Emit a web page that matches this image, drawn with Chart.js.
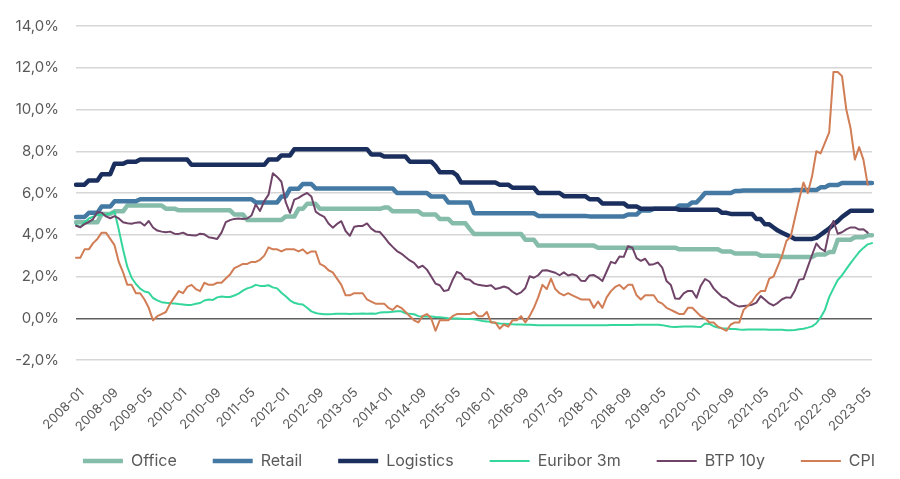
<!DOCTYPE html>
<html>
<head>
<meta charset="utf-8">
<script src="https://cdn.jsdelivr.net/npm/chart.js@4.4.1/dist/chart.umd.min.js"></script>
<style>
  html, body { margin: 0; padding: 0; background: #fff; }
  #wrap { width: 900px; height: 479px; }
</style>
</head>
<body>
<div id="wrap"><canvas id="yieldsChart"></canvas></div>
<script>
// monthly categories 2008-01 .. 2023-07
const firstYear = 2008, lastYear = 2023, lastMonth = 7;
const months = [];
for (let y = firstYear; y <= lastYear; y++) {
  for (let m = 1; m <= 12; m++) {
    if (y === lastYear && m > lastMonth) break;
    months.push(`${y}-${String(m).padStart(2, '0')}`);
  }
}
const tickEvery = 8;

const office = [
  4.6,4.6,4.6,4.6,4.6,4.6,5.0,5.0,5.0,5.12,5.12,5.12,
  5.4,5.4,5.4,5.4,5.4,5.4,5.4,5.4,5.4,5.25,5.25,5.25,
  5.17,5.17,5.17,5.17,5.17,5.17,5.17,5.17,5.17,5.17,5.17,5.17,
  5.17,4.97,4.97,4.97,4.71,4.71,4.71,4.71,4.71,4.71,4.71,4.71,
  4.71,4.87,4.87,4.87,5.24,5.24,5.48,5.48,5.48,5.24,5.24,5.24,
  5.24,5.24,5.24,5.24,5.24,5.24,5.24,5.24,5.24,5.24,5.24,5.24,
  5.3,5.3,5.12,5.12,5.12,5.12,5.12,5.12,5.12,4.97,4.97,4.97,
  4.97,4.76,4.76,4.76,4.55,4.55,4.55,4.55,4.28,4.04,4.04,4.04,
  4.04,4.04,4.04,4.04,4.04,4.04,4.04,4.04,4.04,3.76,3.76,3.76,
  3.48,3.48,3.48,3.48,3.48,3.48,3.48,3.48,3.48,3.48,3.48,3.48,
  3.48,3.48,3.38,3.38,3.38,3.38,3.38,3.38,3.38,3.38,3.38,3.38,
  3.38,3.38,3.38,3.38,3.38,3.38,3.38,3.38,3.38,3.3,3.3,3.3,
  3.3,3.3,3.3,3.3,3.3,3.3,3.3,3.2,3.2,3.2,3.1,3.1,
  3.1,3.1,3.1,3.1,3.0,3.0,3.0,3.0,3.0,2.93,2.93,2.93,
  2.93,2.93,2.93,2.93,2.93,3.05,3.05,3.05,3.17,3.17,3.76,3.76,
  3.76,3.76,3.88,3.88,3.88,3.98,3.98
];
const retail = [
  4.85,4.85,4.85,5.05,5.05,5.05,5.35,5.35,5.35,5.6,5.6,5.6,
  5.6,5.6,5.6,5.7,5.7,5.7,5.7,5.7,5.7,5.7,5.7,5.7,
  5.7,5.7,5.7,5.7,5.7,5.7,5.7,5.7,5.7,5.7,5.7,5.7,
  5.7,5.7,5.7,5.7,5.7,5.7,5.55,5.55,5.55,5.55,5.55,5.55,
  5.83,5.83,6.2,6.2,6.2,6.43,6.43,6.43,6.22,6.22,6.22,6.22,
  6.22,6.22,6.22,6.22,6.22,6.22,6.22,6.22,6.22,6.22,6.22,6.22,
  6.22,6.22,6.22,6.0,6.0,6.0,6.0,6.0,6.0,6.0,6.0,5.83,
  5.83,5.83,5.83,5.55,5.55,5.55,5.55,5.55,5.55,5.03,5.03,5.03,
  5.03,5.03,5.03,5.03,5.03,5.03,5.03,5.03,5.03,5.03,5.03,5.03,
  4.9,4.9,4.9,4.9,4.9,4.9,4.9,4.9,4.9,4.9,4.9,4.9,
  4.88,4.88,4.88,4.88,4.88,4.88,4.88,4.88,4.88,4.97,4.97,4.97,
  5.16,5.16,5.16,5.24,5.24,5.24,5.24,5.24,5.24,5.4,5.4,5.4,
  5.55,5.55,5.76,6.0,6.0,6.0,6.0,6.0,6.0,6.0,6.1,6.1,
  6.12,6.12,6.12,6.12,6.12,6.12,6.12,6.12,6.12,6.12,6.12,6.12,
  6.14,6.14,6.14,6.14,6.14,6.14,6.27,6.27,6.38,6.38,6.38,6.48,
  6.48,6.48,6.48,6.48,6.48,6.48,6.48
];
const logistics = [
  6.4,6.4,6.4,6.6,6.6,6.6,6.9,6.9,6.9,7.4,7.4,7.4,
  7.5,7.5,7.5,7.6,7.6,7.6,7.6,7.6,7.6,7.6,7.6,7.6,
  7.6,7.6,7.6,7.35,7.35,7.35,7.35,7.35,7.35,7.35,7.35,7.35,
  7.35,7.35,7.35,7.35,7.35,7.35,7.35,7.35,7.35,7.6,7.6,7.6,
  7.8,7.8,7.8,8.1,8.1,8.1,8.1,8.1,8.1,8.1,8.1,8.1,
  8.1,8.1,8.1,8.1,8.1,8.1,8.1,8.1,8.1,7.85,7.85,7.85,
  7.75,7.75,7.75,7.75,7.75,7.75,7.5,7.5,7.5,7.5,7.5,7.5,
  7.3,7.0,7.0,7.0,7.0,6.85,6.5,6.5,6.5,6.5,6.5,6.5,
  6.5,6.5,6.5,6.4,6.4,6.4,6.25,6.25,6.25,6.25,6.25,6.25,
  6.0,6.0,6.0,6.0,6.0,6.0,5.85,5.85,5.85,5.85,5.85,5.85,
  5.7,5.7,5.7,5.5,5.5,5.5,5.5,5.5,5.5,5.35,5.35,5.35,
  5.25,5.25,5.25,5.25,5.25,5.25,5.25,5.25,5.25,5.2,5.2,5.2,
  5.2,5.2,5.2,5.2,5.2,5.2,5.2,5.05,5.05,5.0,5.0,5.0,
  5.0,5.0,5.0,4.75,4.75,4.5,4.5,4.35,4.2,4.1,4.0,3.9,
  3.8,3.8,3.8,3.8,3.8,3.85,4.0,4.15,4.3,4.5,4.65,4.85,
  5.0,5.15,5.15,5.15,5.15,5.15,5.15
];
const euribor3m = [
  4.48,4.36,4.60,4.78,4.86,4.94,4.96,4.97,5.02,5.11,4.24,3.29,
  2.46,1.94,1.64,1.42,1.28,1.23,0.97,0.86,0.77,0.74,0.72,0.71,
  0.68,0.66,0.64,0.64,0.69,0.73,0.85,0.90,0.88,1.00,1.04,1.02,
  1.02,1.09,1.18,1.32,1.43,1.49,1.60,1.55,1.54,1.58,1.48,1.43,
  1.22,1.05,0.86,0.74,0.68,0.66,0.50,0.33,0.25,0.21,0.19,0.19,
  0.20,0.22,0.21,0.21,0.20,0.21,0.22,0.23,0.22,0.23,0.22,0.27,
  0.29,0.29,0.31,0.33,0.33,0.24,0.21,0.19,0.10,0.08,0.08,0.08,
  0.06,0.05,0.03,0.00,-0.01,-0.01,-0.02,-0.03,-0.04,-0.05,-0.09,-0.13,
  -0.15,-0.18,-0.23,-0.25,-0.26,-0.27,-0.29,-0.30,-0.30,-0.31,-0.31,-0.32,
  -0.33,-0.33,-0.33,-0.33,-0.33,-0.33,-0.33,-0.33,-0.33,-0.33,-0.33,-0.33,
  -0.33,-0.33,-0.33,-0.33,-0.33,-0.32,-0.32,-0.32,-0.32,-0.32,-0.32,-0.31,
  -0.31,-0.31,-0.31,-0.31,-0.31,-0.33,-0.37,-0.41,-0.42,-0.41,-0.40,-0.39,
  -0.39,-0.41,-0.42,-0.25,-0.27,-0.38,-0.44,-0.48,-0.49,-0.51,-0.52,-0.54,
  -0.55,-0.54,-0.54,-0.54,-0.54,-0.54,-0.55,-0.55,-0.55,-0.55,-0.57,-0.58,
  -0.56,-0.53,-0.50,-0.45,-0.39,-0.24,0.04,0.40,1.01,1.43,1.83,2.06,
  2.35,2.64,2.91,3.17,3.37,3.54,3.60
];
const btp10y = [
  4.43,4.36,4.51,4.61,4.75,5.09,5.06,4.88,4.79,4.89,4.78,4.60,
  4.55,4.53,4.58,4.60,4.44,4.66,4.35,4.20,4.15,4.12,4.15,4.05,
  4.04,4.10,4.00,3.98,3.96,4.05,4.02,3.88,3.84,3.80,4.10,4.60,
  4.70,4.76,4.78,4.76,4.78,4.92,5.45,5.14,5.61,5.92,6.95,6.77,
  6.54,5.56,5.05,5.68,5.77,5.90,6.00,5.83,5.11,4.96,4.86,4.54,
  4.34,4.52,4.65,4.18,3.95,4.38,4.42,4.42,4.54,4.29,4.15,4.13,
  3.90,3.63,3.42,3.22,3.10,2.93,2.77,2.65,2.42,2.52,2.33,2.00,
  1.66,1.58,1.30,1.35,1.83,2.22,2.13,1.88,1.84,1.67,1.60,1.57,
  1.54,1.58,1.40,1.45,1.52,1.45,1.27,1.14,1.24,1.45,2.01,1.94,
  2.06,2.29,2.30,2.24,2.18,2.06,2.20,2.05,2.11,2.04,1.80,1.79,
  2.05,2.07,1.95,1.78,2.24,2.70,2.63,2.96,2.94,3.45,3.38,2.88,
  2.75,2.85,2.56,2.59,2.67,2.42,1.78,1.59,0.95,0.93,1.19,1.31,
  1.31,0.98,1.56,1.88,1.76,1.43,1.22,1.03,0.96,0.77,0.64,0.56,
  0.59,0.61,0.65,0.75,1.06,0.89,0.71,0.61,0.74,0.91,1.00,0.98,
  1.33,1.85,1.88,2.46,3.03,3.58,3.34,3.21,4.17,4.66,4.05,4.12,
  4.26,4.35,4.35,4.25,4.26,4.10,null
];
const cpi = [
  2.9,2.9,3.3,3.3,3.6,3.8,4.1,4.1,3.8,3.5,2.7,2.2,
  1.6,1.6,1.2,1.2,0.9,0.5,-0.1,0.1,0.2,0.3,0.7,1.0,
  1.3,1.2,1.5,1.6,1.4,1.3,1.7,1.6,1.6,1.7,1.7,1.9,
  2.1,2.4,2.5,2.6,2.6,2.7,2.7,2.8,3.0,3.4,3.3,3.3,
  3.2,3.3,3.3,3.3,3.2,3.3,3.1,3.2,3.2,2.6,2.5,2.3,
  2.2,1.9,1.6,1.1,1.1,1.2,1.2,1.2,0.9,0.8,0.7,0.7,
  0.7,0.5,0.4,0.6,0.5,0.3,0.1,-0.1,-0.2,0.1,0.2,0.0,
  -0.6,-0.1,-0.1,-0.1,0.1,0.2,0.2,0.2,0.2,0.3,0.1,0.1,
  0.3,-0.2,-0.2,-0.5,-0.3,-0.4,-0.1,-0.1,0.1,-0.2,0.1,0.5,
  1.0,1.6,1.4,1.9,1.4,1.2,1.1,1.2,1.1,1.0,0.9,0.9,
  0.9,0.5,0.8,0.5,1.0,1.3,1.5,1.6,1.4,1.6,1.6,1.1,
  0.9,1.1,1.1,1.1,0.8,0.7,0.5,0.4,0.3,0.2,0.2,0.5,
  0.5,0.3,0.1,0.0,-0.2,-0.2,-0.4,-0.5,-0.6,-0.3,-0.2,-0.2,
  0.4,0.6,0.8,1.1,1.3,1.3,1.9,2.0,2.5,3.0,3.7,3.9,
  4.8,5.7,6.5,6.0,6.8,8.0,7.9,8.4,8.9,11.8,11.8,11.6,
  10.0,9.1,7.6,8.2,7.6,6.4,null
];

const yMin = -2, yMax = 14, yStep = 2;
const textGrey = '#595959';

function pct(v){
  return v.toFixed(1).replace('.', ',') + '%';
}

function series(label, data, color, width, order){
  return {
    label, data,
    borderColor: color, backgroundColor: color,
    borderWidth: width, pointRadius: 0, tension: 0,
    borderCapStyle: 'round', borderJoinStyle: 'round',
    order
  };
}

// after layout: nudge the legend row right so it sits under the plot, and
// let the x labels run past the (short) x-axis box instead of being clipped
const layoutTweaks = {
  id: 'layoutTweaks',
  afterLayout(chart){
    if (chart.legend) { chart.legend.left += 37; chart.legend.right += 37; }
    const x = chart.scales.x;
    x.bottom = chart.height;
    x.height = x.bottom - x.top;
  }
};

Chart.defaults.font.family = 'Inter, "Noto Sans", sans-serif';
Chart.defaults.color = textGrey;

new Chart(document.getElementById('yieldsChart'), {
  type: 'line',
  data: {
    labels: months,
    datasets: [
      series('Office', office, '#85bcaa', 4.5, 6),
      series('Retail', retail, '#4479a3', 4.5, 5),
      series('Logistics', logistics, '#1b2f5e', 4.5, 4),
      series('Euribor 3m', euribor3m, '#35d69b', 2, 3),
      series('BTP 10y', btp10y, '#6f4468', 2, 2),
      series('CPI', cpi, '#d17d55', 2, 1)
    ]
  },
  options: {
    responsive: true,
    maintainAspectRatio: false,
    animation: false,
    layout: { padding: { top: 25, right: 16, left: 0, bottom: 0 } },
    scales: {
      x: {
        grid: { display: false },
        border: { display: false },
        ticks: {
          autoSkip: false,
          minRotation: 45, maxRotation: 45,
          padding: 17,
          labelOffset: 6,
          font: { size: 13 },
          color: textGrey,
          callback(val, i){ return i % tickEvery === 0 ? months[i] : ''; }
        },
        afterFit(scale){ scale.height = 57; }
      },
      y: {
        min: yMin, max: yMax,
        grid: {
          drawTicks: false,
          lineWidth: 1.5,
          color: ctx => ctx.tick && ctx.tick.value === 0 ? '#5e5e5e' : '#d6d6d6'
        },
        border: { display: false },
        ticks: {
          stepSize: yStep,
          padding: 17,
          font: { size: 15 },
          color: textGrey,
          callback: v => pct(v)
        },
        afterFit(scale){ scale.width = 76; }
      }
    },
    plugins: {
      legend: {
        position: 'bottom',
        labels: {
          usePointStyle: true,
          pointStyle: 'line',
          pointStyleWidth: 40,
          padding: 36,
          font: { size: 16 },
          color: textGrey,
          sort: (a, b) => a.datasetIndex - b.datasetIndex
        }
      },
      tooltip: { enabled: false }
    }
  },
  plugins: [layoutTweaks]
});
</script>
</body>
</html>
